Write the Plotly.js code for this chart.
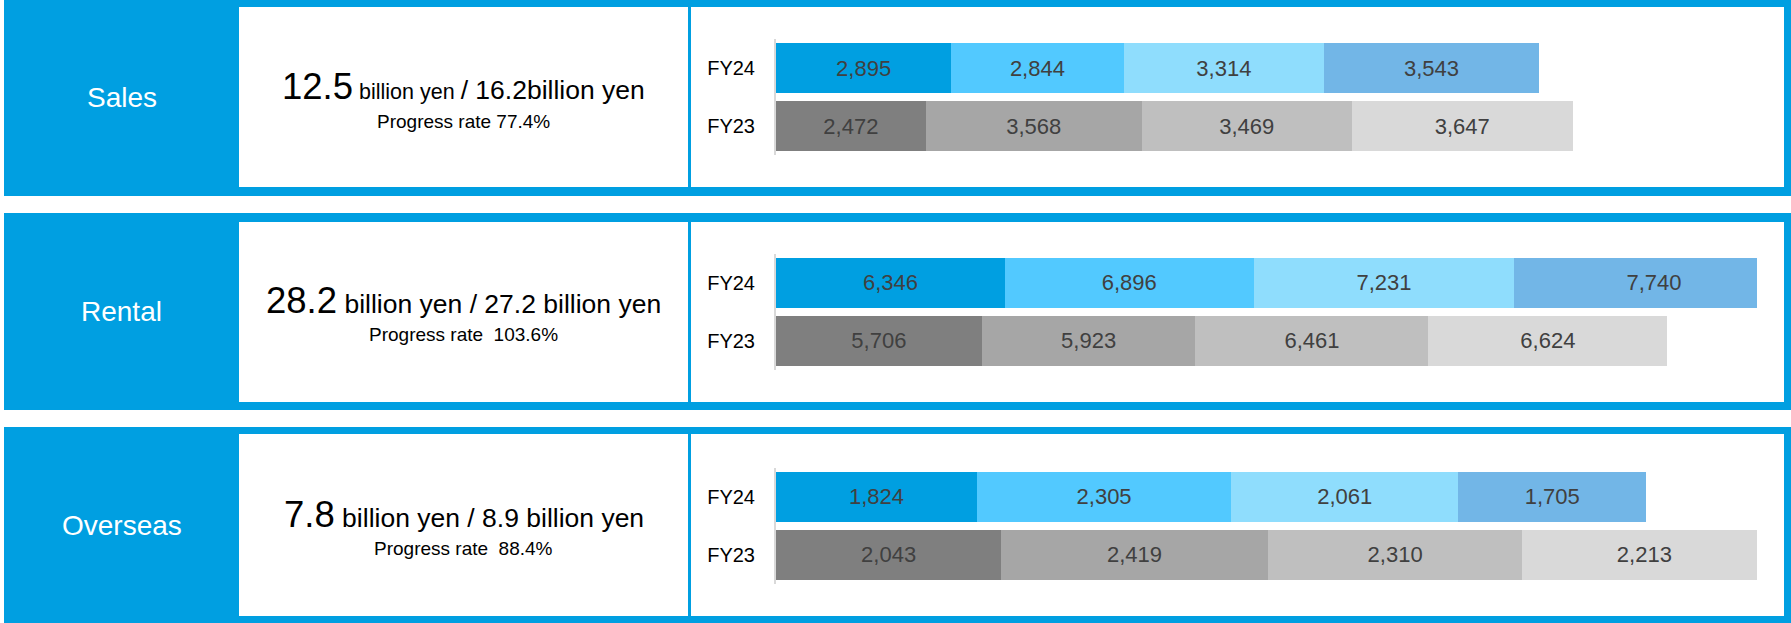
<!DOCTYPE html>
<html>
<head>
<meta charset="utf-8">
<script src="https://cdn.plot.ly/plotly-3.0.1.min.js"></script>
<style>
  html, body { margin: 0; padding: 0; background: #ffffff; }
  #chart { width: 1791px; height: 623px; }
</style>
</head>
<body>
<div id="chart"></div>
<script>
// Segment results by quarter (million yen), FY24 vs FY23
const segments = ['Sales', 'Rental', 'Overseas'];
const years = ['FY24', 'FY23'];

const salesFY24 = [2895, 2844, 3314, 3543];
const salesFY23 = [2472, 3568, 3469, 3647];
const rentalFY24 = [6346, 6896, 7231, 7740];
const rentalFY23 = [5706, 5923, 6461, 6624];
const overseasFY24 = [1824, 2305, 2061, 1705];
const overseasFY23 = [2043, 2419, 2310, 2213];

// Headline figures (billion yen) and progress against the full-year plan
const resultBn = ['12.5', '28.2', '7.8'];
const targetBn = [16.2, 27.2, 8.9];
const targetText = ['16.2billion yen', '27.2 billion yen', '8.9 billion yen'];
const progressRate = ['77.4%', '103.6%', '88.4%'];
const progressGap = [' ', '\u00a0\u00a0', '\u00a0\u00a0'];

const fy24Series = [salesFY24, rentalFY24, overseasFY24];
const fy23Series = [salesFY23, rentalFY23, overseasFY23];

// Quarter colours: blues for the current year, greys for the prior year
const blueShades = ['#009FE1', '#52C9FF', '#8FDDFD', '#72B6E7'];
const greyShades = ['#7F7F7F', '#A6A6A6', '#BFBFBF', '#D9D9D9'];

// Page geometry (pixels)
const W = 1791, H = 623;
const px = x => x / W;
const py = y => 1 - y / H;
const BLUE = '#009FE1';
const FONT = 'Liberation Sans, Arial, sans-serif';

const panelTop = [0, 213, 427];
const panelBottom = [196, 410, 623];
const innerTop = [7, 222, 434];
const innerBottom = [187, 402, 616];
const barAreaTop = [39, 253.5, 467.5];
const barAreaBottom = [155, 369.5, 583.5];
const plotLeft = 776, plotRight = 1757;

const data = [];
const shapes = [];
const annotations = [];
const layout = {
  width: W, height: H,
  margin: {l: 0, r: 0, t: 0, b: 0},
  paper_bgcolor: '#ffffff',
  plot_bgcolor: 'rgba(0,0,0,0)',
  barmode: 'stack',
  bargap: 8 / 58,
  showlegend: false,
  font: {family: FONT, color: '#000000'}
};

segments.forEach((seg, i) => {
  const sfx = i === 0 ? '' : String(i + 1);
  const xName = 'x' + sfx, yName = 'y' + sfx;
  // The value axis runs to the full-year plan (million yen)
  const xMax = targetBn[i] * 1000;

  // Panel frame: blue band with two white boxes
  shapes.push({type: 'rect', xref: 'paper', yref: 'paper', layer: 'below',
    x0: px(4), x1: px(W), y0: py(panelBottom[i]), y1: py(panelTop[i]),
    fillcolor: BLUE, line: {width: 0}});
  shapes.push({type: 'rect', xref: 'paper', yref: 'paper', layer: 'below',
    x0: px(239), x1: px(688), y0: py(innerBottom[i]), y1: py(innerTop[i]),
    fillcolor: '#ffffff', line: {width: 0}});
  shapes.push({type: 'rect', xref: 'paper', yref: 'paper', layer: 'below',
    x0: px(691), x1: px(1784), y0: py(innerBottom[i]), y1: py(innerTop[i]),
    fillcolor: '#ffffff', line: {width: 0}});

  // Segment name
  const mid = (panelTop[i] + panelBottom[i]) / 2;
  annotations.push({xref: 'paper', yref: 'paper', x: px(121.5), y: py(mid),
    xanchor: 'center', yanchor: 'middle', showarrow: false,
    text: seg, font: {family: FONT, size: 28, color: '#ffffff'}});

  // Headline result vs plan
  const smallSize = i === 0 ? 21.5 : 26.5;
  annotations.push({xref: 'paper', yref: 'paper', x: px(463.5), y: py(panelTop[i] + 87),
    xanchor: 'center', yanchor: 'middle', showarrow: false,
    text: '<span style="font-size:36.5px">' + resultBn[i] + '</span>' +
          '<span style="font-size:' + smallSize + 'px"> billion yen </span>' +
          '<span style="font-size:26.5px">/ ' + targetText[i] + '</span>',
    font: {family: FONT, size: 26.5, color: '#000000'}});
  annotations.push({xref: 'paper', yref: 'paper', x: px(463.5), y: py(panelTop[i] + 121),
    xanchor: 'center', yanchor: 'middle', showarrow: false,
    text: 'Progress rate' + progressGap[i] + progressRate[i],
    font: {family: FONT, size: 19, color: '#000000'}});

  // Quarterly stacked bars
  for (let q = 0; q < 4; q++) {
    data.push({
      type: 'bar', orientation: 'h',
      xaxis: xName, yaxis: yName,
      y: years,
      x: [fy24Series[i][q], fy23Series[i][q]],
      marker: {color: [blueShades[q], greyShades[q]], line: {width: 0}},
      texttemplate: '%{x:,}',
      textposition: 'inside',
      insidetextanchor: 'middle',
      textangle: 0,
      constraintext: 'none',
      cliponaxis: true,
      textfont: {family: FONT, size: 22, color: '#404040'},
      hoverinfo: 'skip'
    });
  }

  layout['xaxis' + sfx] = {
    domain: [px(plotLeft), px(plotRight)],
    range: [0, xMax],
    anchor: yName,
    visible: false,
    fixedrange: true
  };
  layout['yaxis' + sfx] = {
    domain: [py(barAreaBottom[i]), py(barAreaTop[i])],
    anchor: xName,
    type: 'category',
    categoryorder: 'array',
    categoryarray: ['FY23', 'FY24'],
    showline: true,
    linecolor: '#D9D9D9',
    linewidth: 2,
    ticks: '',
    ticklabelstandoff: 15,
    showgrid: false,
    zeroline: false,
    tickfont: {family: FONT, size: 20, color: '#000000'},
    fixedrange: true
  };
});

layout.shapes = shapes;
layout.annotations = annotations;

Plotly.newPlot('chart', data, layout, {displayModeBar: false, staticPlot: true});
</script>
</body>
</html>
